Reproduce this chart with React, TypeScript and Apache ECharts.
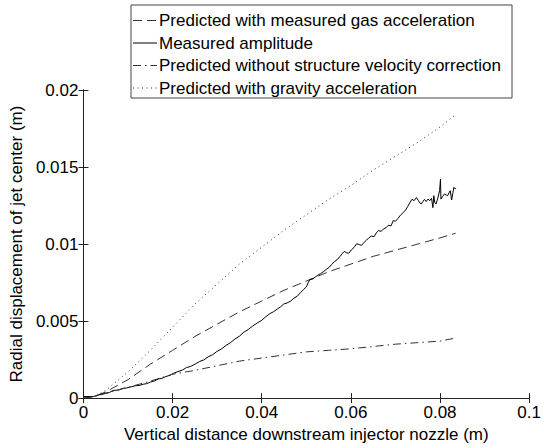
import React, { useEffect, useRef } from "react";
import * as echarts from "echarts";

const seriesNames = [
  "Predicted with measured gas acceleration",
  "Measured amplitude",
  "Predicted without structure velocity correction",
  "Predicted with gravity acceleration",
];

const xTickLabels = ["0", "0.02", "0.04", "0.06", "0.08", "0.1"];
const yTickLabels = ["0", "0.005", "0.01", "0.015", "0.02"];

const predictedX = [0, 0.0025, 0.005, 0.01, 0.015, 0.02, 0.025, 0.03, 0.035, 0.04, 0.045, 0.05, 0.055, 0.06, 0.065, 0.07, 0.075, 0.08, 0.0835];
const gasAccelY = [0, 0.0001, 0.0004, 0.0012, 0.0022, 0.0031, 0.004, 0.0048, 0.0056, 0.0063, 0.007, 0.0076, 0.0082, 0.0087, 0.0092, 0.0096, 0.01, 0.0104, 0.0107];
const noCorrectionY = [0, 0.0001, 0.0003, 0.0007, 0.0011, 0.00155, 0.0018, 0.0021, 0.0024, 0.0026, 0.0028, 0.003, 0.0031, 0.0032, 0.00335, 0.0035, 0.0036, 0.0037, 0.0039];
const gravityY = [0, 0.0001, 0.0005, 0.0017, 0.0031, 0.0046, 0.0061, 0.0074, 0.0087, 0.0098, 0.0109, 0.0119, 0.0129, 0.0138, 0.0148, 0.0157, 0.0166, 0.0176, 0.0184];

const measuredX = [0, 0.0022, 0.003, 0.0045, 0.0058, 0.0067, 0.0078, 0.0088, 0.0097, 0.0105, 0.0116, 0.0125, 0.0134, 0.0142, 0.0151, 0.016, 0.0168, 0.0176, 0.0185, 0.0194, 0.0203, 0.0212, 0.0222, 0.0231, 0.024, 0.025, 0.0261, 0.027, 0.028, 0.029, 0.0299, 0.0309, 0.032, 0.033, 0.034, 0.035, 0.036, 0.037, 0.0379, 0.039, 0.04, 0.0409, 0.0418, 0.0426, 0.0435, 0.0442, 0.0449, 0.0457, 0.0465, 0.0472, 0.048, 0.0487, 0.0494, 0.05, 0.0504, 0.0508, 0.0514, 0.052, 0.0526, 0.0532, 0.0539, 0.0545, 0.0551, 0.0557, 0.0563, 0.0569, 0.0575, 0.058, 0.0585, 0.059, 0.0595, 0.0601, 0.0607, 0.0613, 0.0619, 0.0624, 0.063, 0.0635, 0.064, 0.0646, 0.0652, 0.0657, 0.0662, 0.0668, 0.0673, 0.0679, 0.0684, 0.069, 0.0695, 0.07, 0.0706, 0.0712, 0.0718, 0.0723, 0.0728, 0.0733, 0.0737, 0.0742, 0.0747, 0.0751, 0.0755, 0.0758, 0.0762, 0.0765, 0.0769, 0.0773, 0.0777, 0.0781, 0.0784, 0.0786, 0.0788, 0.0791, 0.0795, 0.0799, 0.0801, 0.0802, 0.0806, 0.081, 0.0814, 0.0817, 0.082, 0.0823, 0.0826, 0.0829, 0.0831, 0.0834, 0.0836];
const measuredY = [0.0001, 0.0001, 0.00017, 0.0003, 0.00036, 0.0005, 0.00052, 0.00063, 0.00066, 0.00072, 0.0008, 0.00082, 0.0009, 0.00094, 0.00105, 0.00112, 0.00124, 0.00128, 0.0014, 0.00148, 0.00162, 0.00172, 0.00182, 0.00198, 0.00205, 0.0022, 0.00238, 0.00248, 0.00268, 0.00282, 0.00302, 0.00318, 0.00342, 0.0036, 0.00384, 0.00402, 0.00428, 0.00446, 0.00466, 0.00488, 0.00505, 0.00528, 0.00548, 0.0056, 0.00578, 0.00592, 0.0061, 0.00618, 0.0063, 0.00648, 0.00662, 0.00685, 0.00705, 0.00722, 0.00748, 0.0077, 0.00772, 0.00786, 0.00798, 0.00808, 0.00822, 0.00836, 0.00848, 0.00868, 0.00886, 0.00898, 0.00918, 0.00936, 0.00952, 0.00944, 0.0094, 0.00962, 0.00978, 0.01002, 0.00996, 0.00992, 0.01012, 0.01025, 0.0104, 0.01052, 0.01048, 0.01072, 0.01088, 0.01082, 0.01098, 0.01106, 0.01122, 0.01118, 0.01152, 0.01148, 0.01168, 0.0119, 0.01206, 0.01222, 0.01246, 0.01272, 0.0129, 0.01282, 0.01302, 0.01284, 0.01266, 0.0126, 0.01278, 0.0129, 0.01276, 0.01292, 0.01282, 0.01296, 0.01236, 0.01314, 0.01272, 0.0126, 0.01298, 0.01346, 0.01421, 0.01292, 0.0131, 0.01325, 0.01318, 0.01314, 0.01332, 0.01346, 0.01286, 0.01335, 0.01368, 0.01358, 0.01362];

const FONT = "'Liberation Sans', Arial, sans-serif";

const lineColors = ["#333", "#000", "#333", "#333"];
const lineDashes: (number[] | "solid")[] = [[9, 5], "solid", [8, 4, 1.5, 4], [1, 3.5]];

export default function App() {
  const ref = useRef<HTMLDivElement>(null);
  useEffect(() => {
    if (!ref.current) return;
    const chart = echarts.init(ref.current, null, { renderer: "svg" });
    const pairs = (xs: number[], ys: number[]) => xs.map((x, i) => [x, ys[i]]);
    const axisLine = { show: true, lineStyle: { color: "#222", width: 1 } };
    const tick = { show: true, inside: true, length: 5, lineStyle: { color: "#222" } };
    const xFmt = (v: number) => xTickLabels[Math.round(v / 0.02)] ?? "";
    const yFmt = (v: number) => yTickLabels[Math.round(v / 0.005)] ?? "";

    const legendLeft = 131;
    const legendTop = 5;
    const rowY = [20.5, 43, 65.5, 88];
    const legendChildren: any[] = [
      {
        type: "rect",
        shape: { x: legendLeft, y: legendTop, width: 381, height: 93 },
        style: { fill: "#fff", stroke: "#444", lineWidth: 1 },
      },
    ];
    seriesNames.forEach((name, i) => {
      const dash = lineDashes[i];
      legendChildren.push({
        type: "line",
        shape: { x1: legendLeft + 2, y1: rowY[i], x2: legendLeft + 26, y2: rowY[i] },
        style: {
          stroke: lineColors[i],
          lineWidth: 1,
          lineDash: dash === "solid" ? null : dash,
        },
      });
      legendChildren.push({
        type: "text",
        x: legendLeft + 28,
        y: rowY[i],
        style: {
          text: name,
          fill: "#000",
          font: `17px ${FONT}`,
          verticalAlign: "middle",
          align: "left",
        },
      });
    });

    chart.setOption({
      animation: false,
      backgroundColor: "#fff",
      textStyle: { fontFamily: FONT },
      grid: { left: 83, right: 12, top: 90, bottom: 47, containLabel: false },
      graphic: [{ type: "group", z: 100, children: legendChildren }],
      xAxis: [
        {
          type: "value",
          min: 0,
          max: 0.1,
          interval: 0.02,
          position: "bottom",
          name: "Vertical distance downstream injector nozzle (m)",
          nameLocation: "middle",
          nameGap: 25,
          nameTextStyle: { fontSize: 17, color: "#000", fontFamily: FONT },
          axisLine,
          axisTick: tick,
          axisLabel: { fontSize: 17, color: "#000", margin: 6, formatter: xFmt, fontFamily: FONT },
          splitLine: { show: false },
        },
        {
          type: "value",
          min: 0,
          max: 0.1,
          interval: 0.02,
          position: "top",
          axisLine,
          axisTick: tick,
          axisLabel: { show: false },
          splitLine: { show: false },
        },
      ],
      yAxis: [
        {
          type: "value",
          min: 0,
          max: 0.02,
          interval: 0.005,
          position: "left",
          name: "Radial displacement of jet center (m)",
          nameLocation: "middle",
          nameGap: 54,
          nameTextStyle: { fontSize: 17, color: "#000", fontFamily: FONT },
          axisLine,
          axisTick: tick,
          axisLabel: { fontSize: 17, color: "#000", margin: 5, formatter: yFmt, fontFamily: FONT },
          splitLine: { show: false },
        },
        {
          type: "value",
          min: 0,
          max: 0.02,
          interval: 0.005,
          position: "right",
          axisLine,
          axisTick: tick,
          axisLabel: { show: false },
          splitLine: { show: false },
        },
      ],
      series: seriesNames.map((name, i) => {
        const xs = i === 1 ? measuredX : predictedX;
        const ys = [gasAccelY, measuredY, noCorrectionY, gravityY][i];
        return {
          name,
          type: "line",
          symbol: "none",
          data: pairs(xs, ys),
          lineStyle: { color: lineColors[i], width: 1, type: lineDashes[i] },
          itemStyle: { color: lineColors[i] },
        };
      }),
    });
    return () => chart.dispose();
  }, []);
  return (
    <div
      ref={ref}
      style={{ position: "fixed", left: 0, top: 0, width: 544, height: 448, background: "#fff" }}
    />
  );
}
